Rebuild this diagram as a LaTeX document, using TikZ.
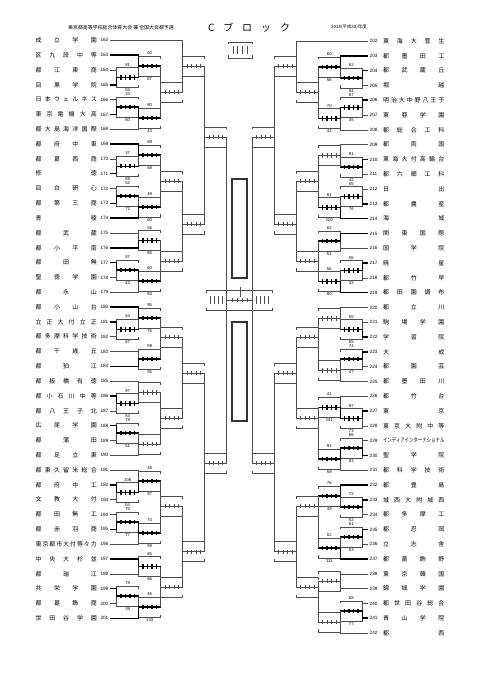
\documentclass[tikz,border=0pt]{standalone}
\usepackage{fontspec}
\setmainfont{Liberation Sans}
\newfontfamily\jpfont{Noto Sans CJK JP}
\usepackage{graphicx}
\usetikzlibrary{calc}

% team names are spread over a fixed width
\newlength{\namew}
\setlength{\namew}{18.3mm}
\def\spreadrest#1{\ifx\relax#1\else\hfill#1\expandafter\spreadrest\fi}
\def\spreadfirst#1{#1\spreadrest}
\newcommand{\spreadname}[1]{\hbox to \namew{\spreadfirst#1\relax}}
\newcommand{\indname}{\hbox to \namew{\hss\scalebox{0.74}[1]{インディアインターナショナル}\hss}}

% one game: #1 name, #2 side (1 left, -1 right), #3 column x, #4 box y,
% #5 upper entrant, #6 lower entrant, #7 winner (0 none, 1 upper, 2 lower),
% #8 upper score, #9 lower score
\newcommand{\bout}[9]{
  \coordinate (#1a) at (#3,#4);
  \coordinate (#1) at ({#3+22*#2},#4);
  \draw[wire] (#5) -- (#5 -| #1a) -- (#6 -| #1a) -- (#6);
  \draw[wire] ($(#1a)+(0,-7.5)$) -- ++(0,-2.5) -| ($(#1)+(0,-7.5)$);
  \draw[wire] ($(#1a)+(0,7.5)$) -- ++(0,2.5) -| ($(#1)+(0,7.5)$);
  \ifcase#7
    \draw[wire] (#1a) -- (#1);
    \foreach \k in {1,...,4}
      \draw[wire] ($(#1a)!\k/5!(#1)+(0,-2.2)$) -- ++(0,4.4);
  \or
    \draw[win] (#5) -- (#5 -| #1a) -- (#1a) -- (#1);
    \foreach \k in {1,...,4}
      \draw[win] ($(#1a)!\k/5!(#1)+(0,-2.2)$) -- ++(0,4.4);
  \or
    \draw[win] (#6) -- (#6 -| #1a) -- (#1a) -- (#1);
    \foreach \k in {1,...,4}
      \draw[win] ($(#1a)!\k/5!(#1)+(0,-2.2)$) -- ++(0,4.4);
  \fi
  \node[score] (#1s) at ($(#1a)!0.5!(#1)+(0,-12.8)$) {#8};
  \node[score] (#1t) at ($(#1a)!0.5!(#1)+(0,12.8)$) {#9};
}

\begin{document}
\begin{tikzpicture}[x=0.3mm,y=-0.3mm,
    wire/.style={line width=0.4pt,black!70},
    win/.style={line width=1.3pt,black},
    tname/.style={anchor=west,inner sep=0pt,font=\jpfont\fontsize{5.1}{6}\selectfont},
    tnum/.style={anchor=west,inner sep=0pt,font=\fontsize{4}{5}\selectfont},
    score/.style={inner sep=0pt,font=\fontsize{3.6}{4}\selectfont},
    tallbox/.style={line width=1.1pt,black!80},
  ]
  \useasboundingbox (0,0) rectangle (481,680);

  % ---------------------------------------------------------------- heading
  \node[inner sep=0pt,font=\jpfont\fontsize{4.2}{5}\selectfont] (head) at (121,28)
    {東京都高等学校総合体育大会\ 兼\ 全国大会都予選};
  \node[inner sep=0pt,font=\jpfont\fontsize{8.5}{10}\selectfont] (block) at (249,28)
    {\hbox to 24.6mm{C\hfill ブ\hfill ロ\hfill ッ\hfill ク}};
  \node[inner sep=0pt,font=\jpfont\fontsize{3.8}{5}\selectfont] (year) at (349,27)
    {2018(平成30)年度};
  % small key box under the heading
  \draw[wire] (228,44.5) -- (228,42) -- (252,42) -- (252,44.5);
  \draw[wire] (228,55.5) -- (228,58) -- (252,58) -- (252,55.5);
  \foreach \k in {1,...,4}
    \draw[wire] ({228+\k*4.8},46) -- ++(0,8);

  % ---------------------------------------------------------------- teams
  \foreach \n [count=\i from 0] in {成立学園,区九段中等,都江東商,目黒学院,日本ウェルネス,
      東京電機大高,都大島海洋国際,都府中東,都葛西商,修徳,目白研心,都第三商,青稜,
      都武蔵,都小平南,都田無,聖徳学園,都永山,都小山台,立正大付立正,都多摩科学技術,
      都千歳丘,都狛江,都板橋有徳,都小石川中等,都八王子北,広尾学園,都蒲田,都足立東,
      都東久留米総合,都府中工,文教大付,都田無工,都赤羽商,東京都市大付等々力,
      中央大杉並,都瑞江,共栄学園,都葛飾商,世田谷学園} {
    \pgfmathsetmacro{\y}{40.3+14.82*\i}
    \pgfmathtruncatemacro{\tno}{162+\i}
    \node[tname] (Ln\tno) at (35.5,\y) {\expandafter\spreadname\expandafter{\n}};
    \node[tnum] (Lk\tno) at (100.3,\y) {\tno};
    \coordinate (L\tno) at (110,\y);
  }
  \foreach \n [count=\i from 0] in {東海大菅生,都墨田工,都武蔵丘,堀越,明治大中野八王子,
      東亜学園,都総合工科,都両国,東海大付高輪台,都六郷工科,日出,都農産,海城,
      関東国際,国学院,暁星,都竹早,都田園調布,都立川,駒場学園,学習院,大成,都園芸,
      都墨田川,都竹台,東京,東京大附中等,\indname,聖学院,都科学技術,都豊島,
      城西大附城西,都多摩工,都忍岡,立志舎,都葛飾野,東京韓国,錦城学園,
      都世田谷総合,青山学院,都西} {
    \pgfmathsetmacro{\y}{41+14.8*\i}
    \pgfmathtruncatemacro{\tno}{202+\i}
    \node[tname] (Rn\tno) at (383,\y) {\expandafter\spreadname\expandafter{\n}};
    \node[tnum] (Rk\tno) at (369.5,\y) {\tno};
    \coordinate (R\tno) at (368,\y);
  }

  % ---------------------------------------------------------------- left half
  \bout{A1}{1}{116.7}{77.4}{L164}{L165}{2}{81}{55}
  \bout{B1}{1}{138.7}{66.2}{L163}{A1}{1}{60}{67}
  \bout{A2}{1}{116.7}{107}{L166}{L167}{2}{33}{60}
  \bout{B2}{1}{138.7}{118.1}{A2}{L168}{1}{90}{43}
  \bout{C1}{1}{160.7}{92.2}{B1}{B2}{0}{}{}
  \bout{D1}{1}{182.7}{66.2}{L162}{C1}{0}{}{}
  \bout{A3}{1}{116.7}{166.3}{L170}{L171}{2}{37}{69}
  \bout{B3}{1}{138.7}{155.2}{L169}{A3}{1}{89}{68}
  \bout{A4}{1}{116.7}{195.9}{L172}{L173}{2}{52}{72}
  \bout{B4}{1}{138.7}{207}{A4}{L174}{2}{49}{60}
  \bout{C2}{1}{160.7}{181.1}{B3}{B4}{0}{}{}
  \bout{B5}{1}{138.7}{240.4}{L175}{L176}{2}{56}{85}
  \bout{A5}{1}{116.7}{270}{L177}{L178}{1}{87}{43}
  \bout{B6}{1}{138.7}{281.1}{A5}{L179}{1}{60}{84}
  \bout{C3}{1}{160.7}{260.8}{B5}{B6}{0}{}{}
  \bout{D2}{1}{182.7}{224}{C2}{C3}{0}{}{}
  \bout{E1}{1}{204.7}{137}{D1}{D2}{0}{}{}
  \bout{A6}{1}{116.7}{329.3}{L181}{L182}{1}{54}{67}
  \bout{B7}{1}{138.7}{318.2}{L180}{A6}{1}{95}{75}
  \bout{B8}{1}{138.7}{359}{L183}{L184}{2}{59}{55}
  \bout{C4}{1}{160.7}{337}{B7}{B8}{0}{}{}
  \bout{A7}{1}{116.7}{403.4}{L186}{L187}{1}{97}{54}
  \bout{B9}{1}{138.7}{392.3}{L185}{A7}{0}{}{}
  \bout{A8}{1}{116.7}{433}{L188}{L189}{1}{79}{51}
  \bout{B10}{1}{138.7}{444.2}{A8}{L190}{0}{}{}
  \bout{C5}{1}{160.7}{418.2}{B9}{B10}{0}{}{}
  \bout{D3}{1}{182.7}{373}{C4}{C5}{0}{}{}
  \bout{A9}{1}{116.7}{492.4}{L192}{L193}{1}{108}{54}
  \bout{B11}{1}{138.7}{481.2}{L191}{A9}{2}{48}{97}
  \bout{A10}{1}{116.7}{522}{L194}{L195}{2}{75}{77}
  \bout{B12}{1}{138.7}{533.1}{A10}{L196}{1}{74}{59}
  \bout{C6}{1}{160.7}{506}{B11}{B12}{0}{}{}
  \bout{B13}{1}{138.7}{566.5}{L197}{L198}{1}{85}{66}
  \bout{A11}{1}{116.7}{596.1}{L199}{L200}{1}{79}{39}
  \bout{B14}{1}{138.7}{607.2}{A11}{L201}{2}{46}{133}
  \bout{C7}{1}{160.7}{587}{B13}{B14}{0}{}{}
  \bout{D4}{1}{182.7}{551.7}{C6}{C7}{0}{}{}
  \bout{E2}{1}{204.7}{463}{D3}{D4}{0}{}{}

  % ---------------------------------------------------------------- right half
  \bout{RA1}{-1}{362.3}{78}{R204}{R205}{1}{62}{84}
  \bout{RB1}{-1}{340.3}{66.9}{R203}{RA1}{1}{60}{56}
  \bout{RA2}{-1}{362.3}{107.6}{R206}{R207}{1}{87}{45}
  \bout{RB2}{-1}{340.3}{118.7}{RA2}{R208}{1}{70}{44}
  \bout{RC1}{-1}{318.3}{92.2}{RB1}{RB2}{0}{}{}
  \bout{RD1}{-1}{296.3}{66.2}{R202}{RC1}{0}{}{}
  \bout{RA3}{-1}{362.3}{166.8}{R210}{R211}{1}{91}{42}
  \bout{RB3}{-1}{340.3}{155.7}{R209}{RA3}{0}{}{}
  \bout{RA4}{-1}{362.3}{196.4}{R212}{R213}{2}{55}{76}
  \bout{RB4}{-1}{340.3}{207.5}{RA4}{R214}{2}{61}{110}
  \bout{RC2}{-1}{318.3}{181.1}{RB3}{RB4}{0}{}{}
  \bout{RB5}{-1}{340.3}{240.8}{R215}{R216}{1}{62}{51}
  \bout{RA5}{-1}{362.3}{270.4}{R217}{R218}{1}{55}{43}
  \bout{RB6}{-1}{340.3}{281.5}{RA5}{R219}{2}{56}{80}
  \bout{RC3}{-1}{318.3}{260.8}{RB5}{RB6}{0}{}{}
  \bout{RD2}{-1}{296.3}{224}{RC2}{RC3}{0}{}{}
  \bout{RE1}{-1}{274.3}{137}{RD1}{RD2}{0}{}{}
  \bout{RA6}{-1}{362.3}{329.6}{R221}{R222}{2}{55}{65}
  \bout{RB7}{-1}{340.3}{318.5}{R220}{RA6}{0}{}{}
  \bout{RA7}{-1}{362.3}{359.2}{R223}{R224}{1}{74}{47}
  \bout{RB8}{-1}{340.3}{370.3}{RA7}{R225}{0}{}{}
  \bout{RC4}{-1}{318.3}{337}{RB7}{RB8}{0}{}{}
  \bout{RA8}{-1}{362.3}{418.4}{R227}{R228}{1}{87}{73}
  \bout{RB9}{-1}{340.3}{407.3}{R226}{RA8}{2}{41}{141}
  \bout{RA9}{-1}{362.3}{448}{R229}{R230}{2}{66}{83}
  \bout{RB10}{-1}{340.3}{459.1}{RA9}{R231}{1}{92}{59}
  \bout{RC5}{-1}{318.3}{418.2}{RB9}{RB10}{0}{}{}
  \bout{RD3}{-1}{296.3}{373}{RC4}{RC5}{0}{}{}
  \bout{RA10}{-1}{362.3}{507.2}{R233}{R234}{1}{72}{52}
  \bout{RB11}{-1}{340.3}{496.1}{R232}{RA10}{1}{76}{49}
  \bout{RA11}{-1}{362.3}{536.8}{R235}{R236}{1}{61}{53}
  \bout{RB12}{-1}{340.3}{547.9}{RA11}{R237}{2}{52}{111}
  \bout{RC6}{-1}{318.3}{506}{RB11}{RB12}{0}{}{}
  \bout{RB13}{-1}{340.3}{581.2}{R238}{R239}{0}{}{}
  \bout{RA12}{-1}{362.3}{610.8}{R240}{R241}{2}{68}{77}
  \bout{RB14}{-1}{340.3}{621.9}{RA12}{R242}{0}{}{}
  \bout{RC7}{-1}{318.3}{587}{RB13}{RB14}{0}{}{}
  \bout{RD4}{-1}{296.3}{551.7}{RC6}{RC7}{0}{}{}
  \bout{RE2}{-1}{274.3}{463}{RD3}{RD4}{0}{}{}

  % ---------------------------------------------------------------- final
  \coordinate (SL) at (226.7,300);
  \coordinate (SR) at (252.3,300);
  \draw[wire] (E1) -- (E2);
  \draw[wire] (RE1) -- (RE2);
  % semi-final boxes, ticks only
  \foreach \a/\b in {206.7/226.7, 252.3/272.3} {
    \draw[wire] (\a,292.5) -- (\a,290) -- (\b,290) -- (\b,292.5);
    \draw[wire] (\a,307.5) -- (\a,310) -- (\b,310) -- (\b,307.5);
    \foreach \k in {1,...,4}
      \draw[wire] ({\a+\k*(\b-\a)/5},296) -- ++(0,8);
  }
  % final box
  \draw[wire] (SL) -- (SR);
  \draw[wire] (226.7,292.5) -- (226.7,290) -- (252.3,290) -- (252.3,292.5);
  \draw[wire] (226.7,307.5) -- (226.7,310) -- (252.3,310) -- (252.3,307.5);
  \foreach \k in {1,...,4}
    \draw[wire] ($(SL)!\k/5!(SR)+(0,-2.2)$) -- ++(0,4.4);
  \draw[wire] (240,287) -- (240,297);
  % champion boxes
  \draw[tallbox] (232,179) rectangle (247,278);
  \draw[tallbox] (232,322) rectangle (247,421);
\end{tikzpicture}
\end{document}
